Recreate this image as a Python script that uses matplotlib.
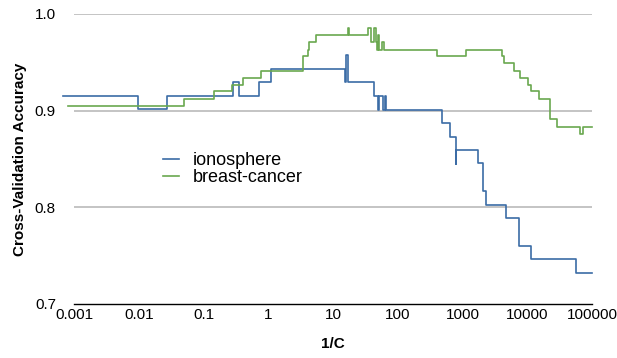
import matplotlib
matplotlib.use("Agg")
import matplotlib.pyplot as plt

plt.rcParams['font.family'] = ['Liberation Sans', 'DejaVu Sans']

# ionosphere step breakpoints (1/C) and accuracy values
iono_x = [0.00068, 0.0098, 0.027, 0.286, 0.35, 0.71, 1.1, 15.3, 16.0, 17.0,
          43, 48.7, 51, 59.5, 62, 66, 470, 630, 780, 800, 1740, 2040, 2300,
          4650, 7400, 11300, 56000, 100000]
iono_y = [0.915, 0.902, 0.915, 0.930, 0.915, 0.930, 0.943, 0.930, 0.958, 0.930,
          0.915, 0.901, 0.915, 0.901, 0.915, 0.901, 0.887, 0.873, 0.845, 0.859,
          0.846, 0.817, 0.802, 0.789, 0.760, 0.746, 0.732, 0.732]

# breast-cancer step breakpoints and accuracy values
bc_x = [0.00081, 0.05, 0.145, 0.27, 0.41, 0.78, 3.4, 4.1, 4.3, 5.4, 17.0, 17.6,
        34, 38, 42.5, 46, 47.5, 49, 50.5, 57, 60, 400, 1130, 3970, 4360, 6100,
        7600, 10200, 11400, 14900, 22400, 28700, 64000, 73000, 100000]
bc_y = [0.905, 0.912, 0.920, 0.927, 0.934, 0.941, 0.956, 0.963, 0.971, 0.978,
        0.985, 0.978, 0.985, 0.971, 0.985, 0.971, 0.963, 0.978, 0.963, 0.971,
        0.963, 0.956, 0.963, 0.956, 0.949, 0.941, 0.934, 0.927, 0.920, 0.912,
        0.891, 0.883, 0.876, 0.883, 0.883]

xticks = [0.001, 0.01, 0.1, 1, 10, 100, 1000, 10000, 100000]
xtick_labels = ["0.001", "0.01", "0.1", "1", "10", "100", "1000", "10000", "100000"]
yticks = [0.7, 0.8, 0.9, 1.0]
ytick_labels = ["0.7", "0.8", "0.9", "1.0"]

fig = plt.figure(figsize=(6.17, 3.58), dpi=100)
ax = fig.add_axes([0.120, 0.151, 0.840, 0.810])

for y in [0.8, 0.9, 1.0]:
    ax.axhline(y, color='#b4b4b4', lw=1.1, zorder=1)

ax.plot(iono_x, iono_y, drawstyle='steps-post', color='#3b6ca6', lw=1.2,
        label='ionosphere', clip_on=False, zorder=3)
ax.plot(bc_x, bc_y, drawstyle='steps-post', color='#6aa84f', lw=1.2,
        label='breast-cancer', clip_on=False, zorder=3)

ax.set_xscale('log')
ax.set_xlim(0.001, 100000)
ax.set_ylim(0.7, 1.0)
ax.set_xticks(xticks)
ax.set_xticklabels(xtick_labels)
ax.minorticks_off()
ax.set_yticks(yticks)
ax.set_yticklabels(ytick_labels)
ax.tick_params(axis='both', length=0, labelsize=11, colors='black')
ax.tick_params(axis='x', pad=3)
ax.tick_params(axis='y', pad=13)

for s in ['top', 'right', 'left']:
    ax.spines[s].set_visible(False)
ax.spines['bottom'].set_color('black')
ax.spines['bottom'].set_linewidth(1.0)

ax.set_xlabel('1/C', fontweight='bold', fontsize=11, labelpad=11)
ax.set_ylabel('Cross-Validation Accuracy', fontweight='bold', fontsize=11, labelpad=6)

leg = ax.legend(loc='upper left', bbox_to_anchor=(0.14, 0.58), frameon=False,
                fontsize=13, handlelength=0.9, handletextpad=0.75, labelspacing=0.0)

fig.savefig('out.png', dpi=100)
